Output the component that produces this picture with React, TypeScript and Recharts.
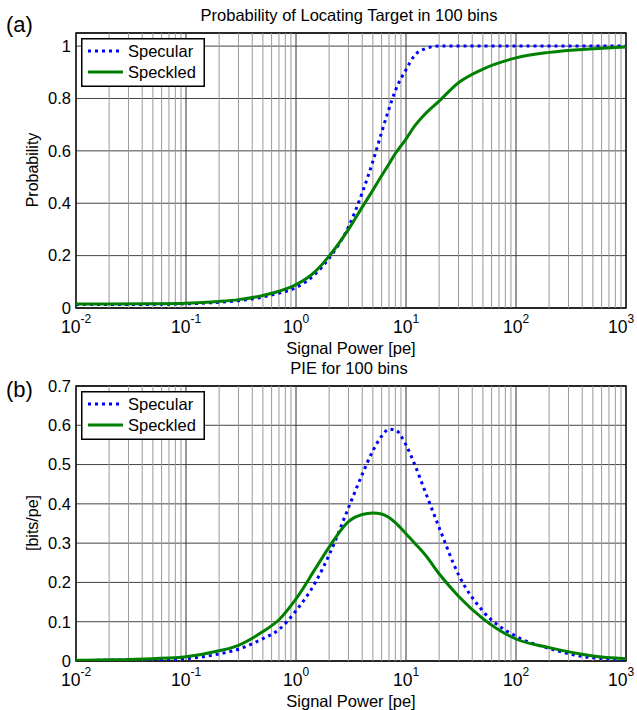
import { LineChart, Line, XAxis, YAxis, CartesianGrid, ReferenceLine, ReferenceArea } from "recharts";

const FONT = "'Liberation Sans', Arial, sans-serif";

// signal power sample points [pe]
const power = [0.01, 0.02, 0.05, 0.1, 0.2, 0.3, 0.5, 0.7, 1, 1.5, 2, 3, 4, 5, 6, 7, 8, 10, 12, 15, 20, 30, 50, 100, 200, 500, 1000];

// (a) probability of locating target
const probSpecular = [0.013, 0.013, 0.014, 0.016, 0.022, 0.028, 0.042, 0.057, 0.078, 0.13, 0.19, 0.31, 0.44, 0.56, 0.67, 0.76, 0.83, 0.91, 0.965, 0.99, 1.0, 1.0, 1.0, 1.0, 1.0, 1.0, 1.0];
const probSpeckled = [0.015, 0.015, 0.016, 0.018, 0.025, 0.032, 0.048, 0.064, 0.089, 0.14, 0.198, 0.3, 0.385, 0.45, 0.505, 0.55, 0.59, 0.645, 0.695, 0.742, 0.79, 0.86, 0.912, 0.955, 0.976, 0.99, 0.997];

// (b) PIE [bits/pe]
const pieSpecular = [0.001, 0.002, 0.003, 0.006, 0.018, 0.03, 0.057, 0.08, 0.128, 0.2, 0.27, 0.39, 0.475, 0.535, 0.572, 0.59, 0.588, 0.55, 0.5, 0.43, 0.34, 0.22, 0.127, 0.063, 0.032, 0.008, 0.004];
const pieSpeckled = [0.002, 0.003, 0.006, 0.011, 0.026, 0.04, 0.075, 0.105, 0.158, 0.235, 0.29, 0.355, 0.373, 0.377, 0.374, 0.365, 0.352, 0.324, 0.3, 0.27, 0.222, 0.165, 0.108, 0.056, 0.034, 0.013, 0.006];

const xTicks = [0.01, 0.1, 1, 10, 100, 1000];
const probTicks = [0, 0.2, 0.4, 0.6, 0.8, 1];
const pieTicks = [0, 0.1, 0.2, 0.3, 0.4, 0.5, 0.6, 0.7];

// minor log grid lines (2..9 in every decade)
const minorX = xTicks.slice(0, -1).flatMap((d) => [2, 3, 4, 5, 6, 7, 8, 9].map((k) => k * d));

const probData = power.map((x, i) => ({ x, specular: probSpecular[i], speckled: probSpeckled[i] }));
const pieData = power.map((x, i) => ({ x, specular: pieSpecular[i], speckled: pieSpeckled[i] }));

const PowTick = (props: any) => {
  const { x, y, payload } = props;
  const exp = Math.round(Math.log10(payload.value));
  return (
    <text x={x} y={y + 25} textAnchor="middle" fontSize={17.5} fontFamily={FONT} fill="#000">
      10<tspan dy={-10} fontSize={12}>{exp}</tspan>
    </text>
  );
};

function LegendBox() {
  return (
    <svg width={124} height={49} style={{ position: "absolute", left: 81, top: 38 }}>
      <rect x={0.75} y={0.75} width={122.5} height={47.5} fill="#fff" stroke="#000" strokeWidth={1.5} />
      <line x1={7} x2={42} y1={13} y2={13} stroke="#0000ff" strokeWidth={3} strokeDasharray="3 4" />
      <text x={47} y={19} fontSize={16.5} fontFamily={FONT}>Specular</text>
      <line x1={7} x2={42} y1={34} y2={34} stroke="#008000" strokeWidth={3} />
      <text x={47} y={40} fontSize={16.5} fontFamily={FONT}>Speckled</text>
    </svg>
  );
}

function Panel({ top, data, yMax, yTicks, title, tag, tagTop, ylabel }: any) {
  const txt: any = { position: "absolute", fontFamily: FONT, color: "#000", whiteSpace: "nowrap", lineHeight: 1 };
  return (
    <div style={{ position: "absolute", left: 0, top, width: 637, height: 357 }}>
      <LineChart width={637} height={357} data={data} margin={{ top: 33, right: 11, left: 0, bottom: 9 }}>
        <CartesianGrid vertical={false} stroke="#444" strokeWidth={1} />
        {minorX.map((v) => (
          <ReferenceLine key={"m" + v} x={v} stroke="#999" strokeWidth={1} />
        ))}
        {xTicks.map((v) => (
          <ReferenceLine key={"M" + v} x={v} stroke="#333" strokeWidth={1} />
        ))}
        <XAxis
          dataKey="x"
          type="number"
          scale="log"
          domain={[0.01, 1000]}
          ticks={xTicks}
          tick={<PowTick />}
          tickLine={false}
          axisLine={false}
          tickSize={0}
          tickMargin={0}
          height={40}
          allowDataOverflow
        />
        <YAxis
          type="number"
          domain={[0, yMax]}
          ticks={yTicks}
          width={76}
          tickLine={false}
          axisLine={false}
          tickSize={0}
          tickMargin={5}
          tick={{ fill: "#000", fontSize: 16.5, fontFamily: FONT }}
          allowDataOverflow
        />
        <Line type="monotone" dataKey="specular" stroke="#0000ff" strokeWidth={3} strokeDasharray="3 4" dot={false} isAnimationActive={false} />
        <Line type="monotone" dataKey="speckled" stroke="#008000" strokeWidth={3} dot={false} isAnimationActive={false} />
        <ReferenceArea x1={0.01} x2={1000} y1={0} y2={yMax} fill="none" stroke="#000" strokeWidth={1.5} />
      </LineChart>
      <LegendBox />
      <div style={{ ...txt, left: 349, top: 15, fontSize: 16.5, transform: "translate(-50%, -50%)" }}>{title}</div>
      <div style={{ ...txt, left: 6, top: tagTop, fontSize: 22, transform: "translateY(-50%)" }}>{tag}</div>
      <div style={{ ...txt, left: 351, top: 348, fontSize: 16.5, transform: "translate(-50%, -50%)" }}>Signal Power [pe]</div>
      <div style={{ ...txt, left: 33, top: 170, fontSize: 16, transform: "translate(-50%, -50%) rotate(-90deg)" }}>{ylabel}</div>
    </div>
  );
}

export default function App() {
  return (
    <div style={{ position: "absolute", left: 0, top: 0, width: 637, height: 710, background: "#fff", overflow: "hidden" }}>
      <Panel top={0} data={probData} yMax={1.05} yTicks={probTicks} title="Probability of Locating Target in 100 bins" tag="(a)" tagTop={25} ylabel="Probability" />
      <Panel top={353} data={pieData} yMax={0.7} yTicks={pieTicks} title="PIE for 100 bins" tag="(b)" tagTop={37} ylabel="[bits/pe]" />
    </div>
  );
}
